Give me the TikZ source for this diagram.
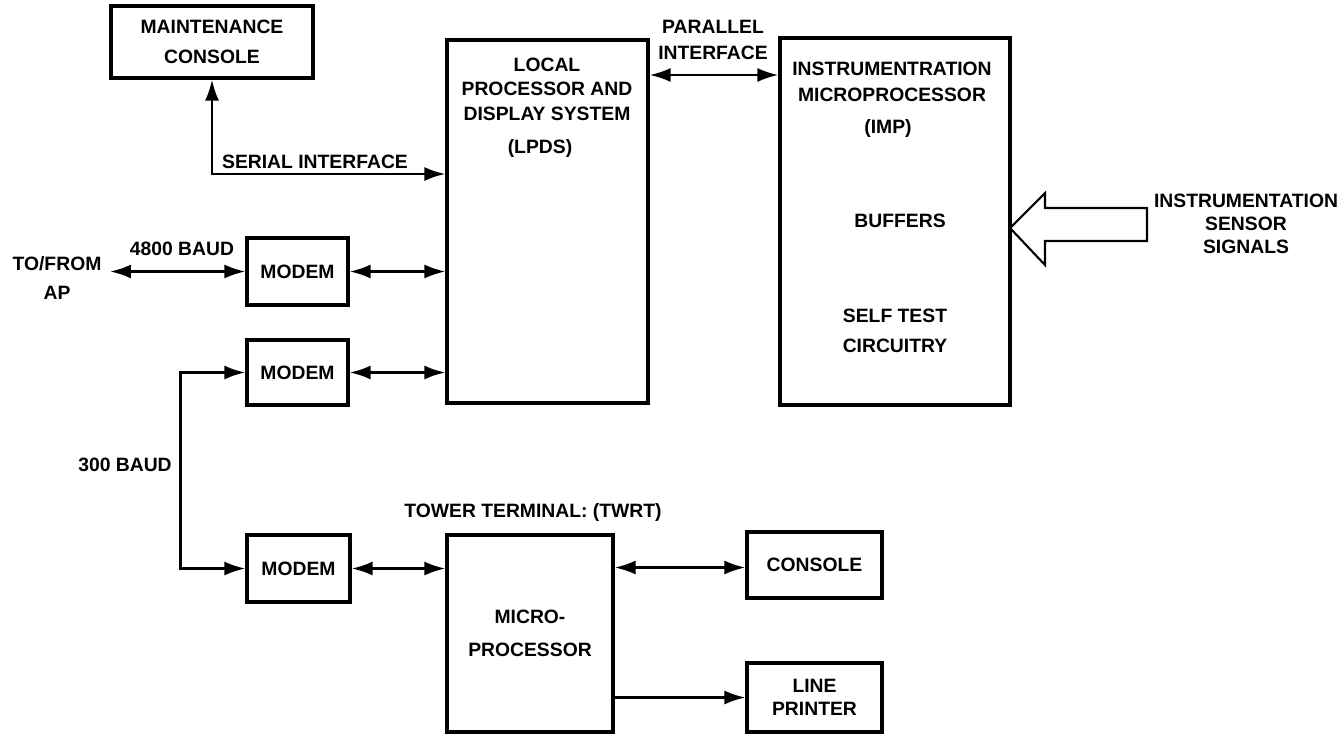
\documentclass[tikz,border=0pt]{standalone}
\usepackage{fontspec}
\setmainfont{Liberation Sans}
\usetikzlibrary{arrows.meta,calc,positioning}
\newcommand{\blockfont}{\fontsize{11}{14}\selectfont\bfseries}
\tikzset{
  unit/.style={draw,line width=1.8pt,inner sep=0pt,font=\blockfont,align=center},
  lbl/.style={font=\blockfont,align=center,inner sep=0pt},
  link/.style={line width=1.5pt},
}

\begin{document}
\begin{tikzpicture}[x=0.02cm,y=-0.02cm,>={Latex[length=4.2mm,width=2.8mm]}]
    \useasboundingbox (0,0) rectangle (1344,734);
    % blocks
    \node[unit,minimum width=4.04cm,minimum height=1.44cm] (maint) at (212,42) {MAINTENANCE\\[3pt]CONSOLE};
    \node[unit,minimum width=4.02cm,minimum height=7.26cm] (lpds) at (547.5,221.5) {};
    \node[unit,minimum width=4.6cm,minimum height=7.34cm] (imp) at (895,221.5) {};
    \node[unit,minimum width=2.02cm,minimum height=1.34cm] (modA) at (297.5,271.5) {MODEM};
    \node[unit,minimum width=2.02cm,minimum height=1.3cm] (modB) at (297.5,372.5) {MODEM};
    \node[unit,minimum width=2.06cm,minimum height=1.34cm] (modC) at (298.5,568.5) {MODEM};
    \node[unit,minimum width=3.32cm,minimum height=3.94cm] (micro) at (530,633.5) {MICRO-\\[5pt]PROCESSOR};
    \node[unit,minimum width=2.7cm,minimum height=1.32cm] (console) at (814.5,565) {CONSOLE};
    \node[unit,minimum width=2.7cm,minimum height=1.38cm] (printer) at (814.5,697.5) {LINE\\[-1pt]PRINTER};
    % texts inside the two big blocks
    \node[lbl] (lpdsname) at (547,89) {LOCAL\\PROCESSOR AND\\DISPLAY SYSTEM};
    \node[lbl] (lpdsabbr) at (540,148) {(LPDS)};
    \node[lbl] (impname) at (892,82) {INSTRUMENTRATION\\[1pt]MICROPROCESSOR};
    \node[lbl] (impabbr) at (888,128) {(IMP)};
    \node[lbl] (buffers) at (900,221) {BUFFERS};
    \node[lbl] (selftest) at (895,331) {SELF TEST\\[3pt]CIRCUITRY};
    % connectors
    \coordinate (serialbend) at (212,174);
    \draw[link,<->] (maint.south) -- (serialbend) -- (lpds.west |- serialbend);
    \node[lbl] (seriallbl) at (315,162) {SERIAL INTERFACE};
    \coordinate (parlink) at (714,75);
    \draw[link,<->] (lpds.east |- parlink) -- (imp.west |- parlink);
    \node[lbl] (parlbl) at (713,40) {PARALLEL\\[0.7pt]INTERFACE};
    \coordinate (ap) at (110,271.5);
    \draw[link,<->] (ap) -- (modA.west);
    \node[lbl] (tofrom) at (57,278) {TO/FROM\\[2.4pt]AP};
    \node[lbl] (baud4800) at (182,249) {4800 BAUD};
    \foreach \m in {modA,modB} {
      \draw[link,<->] (\m.east) -- (lpds.west |- \m.east);
    };
    \draw[link,<->] (modB.west) -- ++(-65,0) |- (modC.west);
    \node[lbl] (baud300) at (125,465) {300 BAUD};
    \draw[link,<->] (modC.east) -- (micro.west |- modC.east);
    \node[lbl] (twrt) at (533,512) {TOWER TERMINAL: (TWRT)};
    \coordinate (conlink) at (680,567.5);
    \draw[link,<->] (micro.east |- conlink) -- (console.west |- conlink);
    \draw[link,->] (micro.east |- printer.west) -- (printer.west);
    % hollow arrow of the sensor signals
    \coordinate (sensortip) at (1010,228);
    \draw[line width=1.2pt,line join=miter] (sensortip) -- ++(35,-35) -- ++(0,15) -- ++(102,0)
      -- ++(0,33) -- ++(-102,0) -- ++(0,24) -- cycle;
    \node[lbl] (sensor) at (1246,224) {INSTRUMENTATION\\[-1pt]SENSOR\\[-1pt]SIGNALS};
  \end{tikzpicture}
\end{document}
